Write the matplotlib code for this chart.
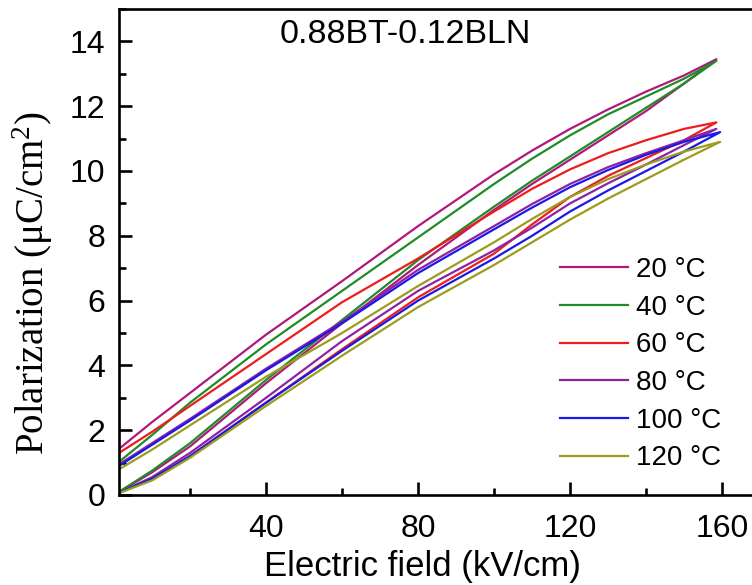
import numpy as np
import matplotlib.pyplot as plt
from matplotlib.ticker import MultipleLocator

# Field grid (kV/cm) shared by both branches, tip added per loop
field = [0, 10, 20, 40, 60, 80, 100, 110, 120, 130, 140, 150]

labels = ['20 \u00b0C', '40 \u00b0C', '60 \u00b0C', '80 \u00b0C', '100 \u00b0C', '120 \u00b0C']
colors = ['#B0197A', '#1E8C28', '#EE1C1C', '#8E22A2', '#1A1AE6', '#9C9C1E']

tip_field = [158.5, 158.5, 158.5, 158.5, 159.5, 159.5]
tip_pol = [13.45, 13.4, 11.5, 11.3, 11.2, 10.9]

# Rising (lower) branches, uC/cm2
lower_20 = [0, 0.7, 1.5, 3.45, 5.3, 7.1, 8.8, 9.6, 10.35, 11.1, 11.85, 12.7]
lower_40 = [0, 0.75, 1.6, 3.55, 5.4, 7.25, 8.9, 9.7, 10.45, 11.2, 11.95, 12.7]
lower_60 = [0, 0.5, 1.2, 2.85, 4.5, 6.1, 7.45, 8.35, 9.2, 9.85, 10.4, 10.95]
lower_80 = [0, 0.55, 1.3, 3.0, 4.75, 6.3, 7.55, 8.25, 9.0, 9.62, 10.2, 10.8]
lower_100 = [0, 0.5, 1.2, 2.85, 4.45, 6.0, 7.3, 8.0, 8.75, 9.4, 10.0, 10.6]
lower_120 = [0, 0.45, 1.15, 2.75, 4.3, 5.8, 7.1, 7.8, 8.5, 9.15, 9.75, 10.35]

# Falling (upper) branches
upper_20 = [1.3, 2.25, 3.15, 4.95, 6.6, 8.3, 9.9, 10.63, 11.3, 11.9, 12.45, 12.95]
upper_40 = [0.9, 1.85, 2.85, 4.65, 6.3, 7.95, 9.6, 10.38, 11.1, 11.75, 12.3, 12.85]
upper_60 = [1.2, 1.95, 2.75, 4.35, 5.95, 7.3, 8.75, 9.45, 10.05, 10.55, 10.95, 11.3]
upper_80 = [0.85, 1.6, 2.35, 3.9, 5.35, 6.95, 8.3, 8.98, 9.6, 10.12, 10.55, 10.95]
upper_100 = [0.8, 1.55, 2.3, 3.85, 5.3, 6.85, 8.2, 8.87, 9.5, 10.03, 10.5, 10.9]
upper_120 = [0.7, 1.4, 2.15, 3.65, 5.0, 6.45, 7.8, 8.52, 9.2, 9.75, 10.2, 10.6]

lowers = [lower_20, lower_40, lower_60, lower_80, lower_100, lower_120]
uppers = [upper_20, upper_40, upper_60, upper_80, upper_100, upper_120]

plt.rcParams['font.family'] = ['Liberation Sans', 'DejaVu Sans']
plt.rcParams['mathtext.fontset'] = 'custom'
plt.rcParams['mathtext.rm'] = 'Liberation Serif'

fig = plt.figure(figsize=(7.52, 5.85), dpi=100)
x0, x1 = 1.3, 170.0
left_px, bottom_px, top_px = 119, 495, 9
width_px = (x1 - x0) * 3.8
ax = fig.add_axes([left_px / 752, 1 - bottom_px / 585,
                   width_px / 752, (bottom_px - top_px) / 585])

for i in range(len(labels)):
    # one closed loop: up the lower branch, back down the upper branch
    xs = list(field) + [tip_field[i]] + list(field[::-1])
    ys = list(lowers[i]) + [tip_pol[i]] + list(uppers[i][::-1])
    ax.plot(xs, ys, color=colors[i], lw=1.6, label=labels[i])

ax.set_xlim(x0, x1)
ax.set_ylim(0, 15)
ax.xaxis.set_major_locator(MultipleLocator(40))
ax.xaxis.set_minor_locator(MultipleLocator(20))
ax.yaxis.set_major_locator(MultipleLocator(2))
ax.yaxis.set_minor_locator(MultipleLocator(1))
ax.tick_params(which='both', direction='in', top=False, right=False, width=1.9,
               labelsize=23)
ax.tick_params(axis='y', pad=10)
ax.tick_params(axis='x', pad=14)
ax.tick_params(which='major', length=9.5)
ax.tick_params(which='minor', length=5)
for s in ax.spines.values():
    s.set_linewidth(1.9)

ax.set_xlabel('Electric field (kV/cm)', fontsize=25)
ax.set_ylabel(r'Polarization ($\mathrm{\mu C/cm^2}$)', fontsize=28,
              family=['Liberation Serif', 'DejaVu Serif'])
# label centres placed where the original has them (axes runs past the right edge)
ax.xaxis.set_label_coords((422 - left_px) / width_px, -(583 - bottom_px) / (bottom_px - top_px),
                          transform=ax.transAxes)
ax.xaxis.label.set_va('bottom')
ax.yaxis.set_label_coords(-(119 - 33) / width_px, (bottom_px - 283) / (bottom_px - top_px))
ax.yaxis.label.set_va('center')

ax.text(43.5, 14.2, '0.88BT-0.12BLN', fontsize=24.5, ha='left', va='center')

fig.legend(loc='upper left', bbox_to_anchor=(560 / 752, 1 - 257 / 585),
           frameon=False, fontsize=20, handlelength=2.45, handletextpad=0.3,
           labelspacing=0.42, borderpad=0, borderaxespad=0)

fig.savefig('out.png', dpi=100)
